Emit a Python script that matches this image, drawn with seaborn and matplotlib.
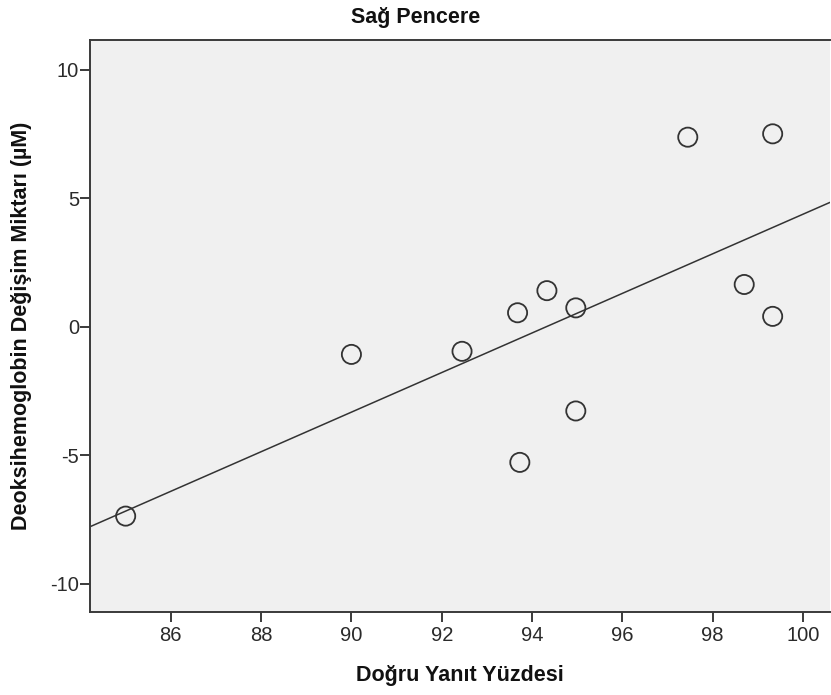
import matplotlib
matplotlib.use("Agg")
import matplotlib.pyplot as plt
import seaborn as sns
import pandas as pd

dogru_yanit = [85.0, 90.0, 92.45, 93.68, 94.33, 94.97, 94.97, 93.73, 97.45, 99.33, 98.7, 99.33]
deoksi = [-7.37, -1.08, -0.96, 0.54, 1.40, 0.73, -3.28, -5.28, 7.37, 7.50, 1.64, 0.40]
x_ticks = [86, 88, 90, 92, 94, 96, 98, 100]
y_ticks = [-10, -5, 0, 5, 10]

sns.set_style("white")
plt.rcParams["font.family"] = ["Liberation Sans", "DejaVu Sans"]
plt.rcParams["axes.unicode_minus"] = False

df = pd.DataFrame({"x": dogru_yanit, "y": deoksi})

W, H = 831, 695
fig = plt.figure(figsize=(W / 100, H / 100), dpi=100)
ax_l, ax_r, ax_t, ax_b = 90, 830, 40, 612
ax = fig.add_axes([ax_l / W, 1 - ax_b / H, (ax_r - ax_l) / W, (ax_b - ax_t) / H])
ax.set_facecolor("#f0f0f0")
ax.set_xlim(84.21, 100.6)
ax.set_ylim(-11.1, 11.15)

sns.regplot(data=df, x="x", y="y", ax=ax, ci=None, truncate=False,
            scatter_kws=dict(s=190, facecolors="none", edgecolors="#333333", linewidths=1.3, alpha=1),
            line_kws=dict(color="#333333", lw=1.1))
ax.set_xlim(84.21, 100.6)
ax.set_ylim(-11.1, 11.15)

ax.set_xticks(x_ticks)
ax.set_yticks(y_ticks)
ax.tick_params(axis="both", direction="out", length=7, width=1.4, color="#3a3a3a",
               labelsize=14.5, labelcolor="#2a2a2a", left=True, bottom=True)
ax.tick_params(axis="x", pad=3)
ax.tick_params(axis="y", pad=1)
for side in ["left", "bottom", "top"]:
    ax.spines[side].set_color("#3a3a3a")
    ax.spines[side].set_linewidth(1.4)
ax.spines["right"].set_visible(False)

ax.set_xlabel("Doğru Yanıt Yüzdesi", fontsize=15.5, fontweight="bold", color="#111111")
ax.set_ylabel("Deoksihemoglobin Değişim Miktarı (µM)", fontsize=15.5, fontweight="bold", color="#111111")
ax.xaxis.label.set_va("center")
ax.yaxis.label.set_va("center")
ax.xaxis.set_label_coords(0.5, -(676 - ax_b) / (ax_b - ax_t))
ax.yaxis.set_label_coords(-(ax_l - 22) / (ax_r - ax_l), 0.5)

fig.text(0.5, 1 - 17 / H, "Sağ Pencere", fontsize=15.5, fontweight="bold",
         ha="center", va="center", color="#111111")

fig.savefig("out.png", dpi=100)
